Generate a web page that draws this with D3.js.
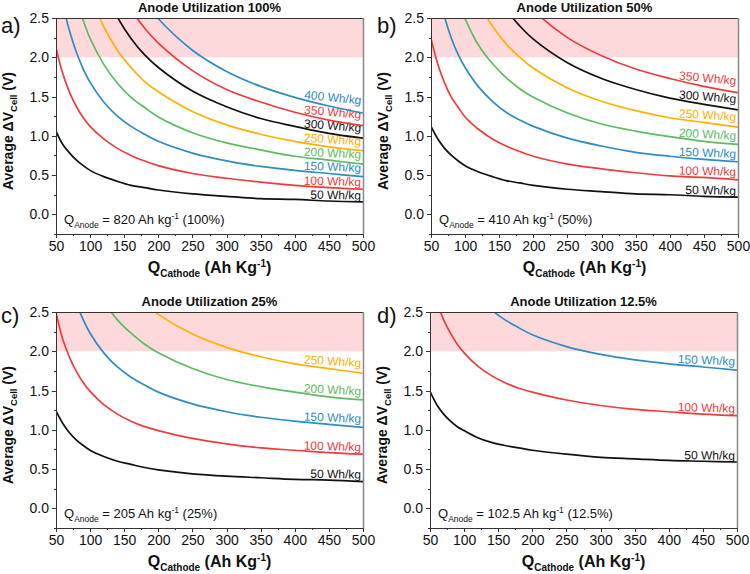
<!DOCTYPE html>
<html>
<head>
<meta charset="utf-8" />
<title>Anode utilization</title>
<script src="https://d3js.org/d3.v7.min.js"></script>
<style>
    body { margin: 0; background: #fff; }
    text { font-family: "Liberation Sans", Arial, sans-serif; fill: #111; }
    .tick text { font-size: 14px; }
    .axis path, .axis line { stroke: #333; stroke-width: 1px; shape-rendering: crispEdges; }
</style>
</head>
<body>
<svg id="chart" width="750" height="574"></svg>
<script>
// cathode capacity samples (Ah/kg)
var qCathode = [50, 60, 70, 80, 90, 100, 120, 140, 160, 180, 200, 250, 300, 350, 400, 450, 500];

var titles = ["Anode Utilization 100%", "Anode Utilization 50%", "Anode Utilization 25%", "Anode Utilization 12.5%"];
var letters = ["a)", "b)", "c)", "d)"];
var anodeCap = ["820", "410", "205", "102.5"];
var anodePct = ["100%", "50%", "25%", "12.5%"];

// specific energies (Wh/kg) shown in each panel
var energyA = [50, 100, 150, 200, 250, 300, 350, 400];
var energyB = [50, 100, 150, 200, 250, 300, 350];
var energyC = [50, 100, 150, 200, 250];
var energyD = [50, 100, 150];

// average cell voltage (V), one row per energy
var voltA = [
    [1.06, 0.89, 0.78, 0.69, 0.62, 0.56, 0.48, 0.42, 0.37, 0.34, 0.31, 0.26, 0.23, 0.20, 0.19, 0.17, 0.16],
    [2.12, 1.79, 1.55, 1.37, 1.23, 1.12, 0.96, 0.84, 0.75, 0.68, 0.62, 0.52, 0.46, 0.41, 0.37, 0.34, 0.32],
    [3.18, 2.68, 2.33, 2.06, 1.85, 1.68, 1.43, 1.25, 1.12, 1.02, 0.93, 0.78, 0.68, 0.61, 0.56, 0.52, 0.48],
    [null, 3.58, 3.10, 2.74, 2.47, 2.24, 1.91, 1.67, 1.49, 1.36, 1.24, 1.04, 0.91, 0.82, 0.74, 0.69, 0.64],
    [null, null, null, 3.43, 3.08, 2.81, 2.39, 2.09, 1.87, 1.69, 1.56, 1.31, 1.14, 1.02, 0.93, 0.86, 0.81],
    [null, null, null, null, null, null, 2.87, 2.51, 2.24, 2.03, 1.87, 1.57, 1.37, 1.22, 1.12, 1.03, 0.97],
    [null, null, null, null, null, null, null, 2.93, 2.61, 2.37, 2.18, 1.83, 1.59, 1.43, 1.30, 1.20, 1.13],
    [null, null, null, null, null, null, null, null, null, 2.71, 2.49, 2.09, 1.82, 1.63, 1.49, 1.38, 1.29]
];
var voltB = [
    [1.12, 0.96, 0.84, 0.75, 0.68, 0.62, 0.54, 0.48, 0.43, 0.40, 0.37, 0.32, 0.29, 0.26, 0.25, 0.23, 0.22],
    [2.24, 1.91, 1.67, 1.49, 1.36, 1.24, 1.08, 0.96, 0.87, 0.80, 0.74, 0.64, 0.58, 0.53, 0.49, 0.47, 0.44],
    [3.37, 2.87, 2.51, 2.24, 2.03, 1.87, 1.62, 1.44, 1.30, 1.20, 1.12, 0.97, 0.87, 0.79, 0.74, 0.70, 0.67],
    [null, 3.82, 3.35, 2.99, 2.71, 2.49, 2.15, 1.92, 1.74, 1.60, 1.49, 1.29, 1.15, 1.06, 0.99, 0.93, 0.89],
    [null, null, null, null, null, 3.11, 2.69, 2.40, 2.17, 2.00, 1.86, 1.61, 1.44, 1.32, 1.23, 1.17, 1.11],
    [null, null, null, null, null, null, null, 2.87, 2.61, 2.40, 2.23, 1.93, 1.73, 1.59, 1.48, 1.40, 1.33],
    [null, null, null, null, null, null, null, null, null, 2.80, 2.60, 2.25, 2.02, 1.85, 1.73, 1.63, 1.55]
];
var voltC = [
    [1.24, 1.08, 0.96, 0.87, 0.80, 0.74, 0.66, 0.60, 0.56, 0.52, 0.49, 0.44, 0.41, 0.39, 0.37, 0.36, 0.34],
    [2.49, 2.15, 1.92, 1.74, 1.60, 1.49, 1.32, 1.20, 1.11, 1.04, 0.99, 0.89, 0.82, 0.77, 0.74, 0.71, 0.69],
    [3.73, 3.23, 2.87, 2.61, 2.40, 2.23, 1.98, 1.80, 1.67, 1.57, 1.48, 1.33, 1.23, 1.16, 1.11, 1.07, 1.03],
    [null, null, null, null, null, 2.98, 2.64, 2.40, 2.23, 2.09, 1.98, 1.78, 1.64, 1.55, 1.48, 1.42, 1.38],
    [null, null, null, null, null, null, null, null, null, 2.61, 2.47, 2.22, 2.05, 1.93, 1.84, 1.78, 1.72]
];
var voltD = [
    [1.49, 1.32, 1.20, 1.11, 1.04, 0.99, 0.90, 0.84, 0.80, 0.77, 0.74, 0.69, 0.65, 0.63, 0.61, 0.60, 0.59],
    [2.98, 2.64, 2.40, 2.23, 2.09, 1.98, 1.81, 1.69, 1.60, 1.53, 1.48, 1.38, 1.31, 1.26, 1.23, 1.20, 1.18],
    [null, null, null, null, null, null, 2.71, 2.53, 2.40, 2.30, 2.21, 2.06, 1.96, 1.89, 1.84, 1.80, 1.76]
];

var xTicks = [50, 100, 150, 200, 250, 300, 350, 400, 450, 500];
var yTicks = [0, 0.5, 1, 1.5, 2, 2.5];

var colorFor = {50: "#111111", 100: "#f03b3b", 150: "#2f8bc3", 200: "#5dbb63",
                250: "#ffb000", 300: "#111111", 350: "#f03b3b", 400: "#2f8bc3"};

var panels = [
    {left: 56, top: 18, energy: energyA, volt: voltA},
    {left: 431, top: 18, energy: energyB, volt: voltB},
    {left: 56, top: 312, energy: energyC, volt: voltC},
    {left: 430, top: 312, energy: energyD, volt: voltD}
];

var plotW = 307, plotH = 216;
var svg = d3.select("#chart");

panels.forEach(function(p, i) {
    var g = svg.append("g").attr("transform", "translate(" + p.left + "," + p.top + ")");

    var x = d3.scaleLinear().domain([50, 500]).range([0, plotW]);
    var y = d3.scaleLinear().domain([-0.25, 2.5]).range([plotH, 0]);

    g.append("clipPath").attr("id", "clip" + i)
        .append("rect").attr("width", plotW).attr("height", plotH);

    // forbidden voltage band
    g.append("rect")
        .attr("x", 0).attr("y", y(2.5))
        .attr("width", plotW).attr("height", y(2) - y(2.5))
        .attr("fill", "#fdd9dc");

    var line = d3.line()
        .defined(function(d) { return d[1] != null; })
        .x(function(d) { return x(d[0]); })
        .y(function(d) { return y(d[1]); })
        .curve(d3.curveCatmullRom.alpha(0.5));

    p.volt.forEach(function(row, k) {
        var pts = qCathode.map(function(q, j) { return [q, row[j]]; });
        var col = colorFor[p.energy[k]];
        g.append("path")
            .attr("clip-path", "url(#clip" + i + ")")
            .attr("d", line(pts))
            .attr("fill", "none")
            .attr("stroke", col)
            .attr("stroke-width", 1.7);

        // label sits over the tail of the curve, slightly tilted
        var n = row.length;
        var v450 = row[n - 2], v400 = row[n - 3];
        var ang = Math.atan2(y(row[n - 1]) - y(v400), x(500) - x(400)) * 180 / Math.PI * 0.45;
        g.append("text")
            .attr("transform", "translate(" + (x(500) - 2) + "," + (y(v450) - 1.5) + ") rotate(" + ang + ")")
            .attr("text-anchor", "end")
            .style("font-size", "12px")
            .style("fill", col)
            .text(p.energy[k] + " Wh/kg");
    });

    // axes
    g.append("g").attr("class", "axis")
        .attr("transform", "translate(0," + plotH + ")")
        .call(d3.axisBottom(x).tickValues(xTicks).tickSize(4).tickSizeOuter(0).tickPadding(3).tickFormat(d3.format("d")));
    g.append("g").attr("class", "axis")
        .attr("transform", "translate(0," + plotH + ")")
        .call(d3.axisBottom(x).tickValues(d3.range(75, 500, 50)).tickSize(2).tickSizeOuter(0).tickFormat(""))
        .select(".domain").remove();
    g.append("g").attr("class", "axis")
        .call(d3.axisLeft(y).tickValues(yTicks).tickSize(4).tickSizeOuter(0).tickPadding(3).tickFormat(d3.format(".1f")));
    g.append("g").attr("class", "axis")
        .call(d3.axisLeft(y).tickValues([-0.25, 0.25, 0.75, 1.25, 1.75, 2.25]).tickSize(2).tickSizeOuter(0).tickFormat(""))
        .select(".domain").remove();

    g.append("line").attr("x1", 0).attr("x2", plotW).attr("y1", 0.5).attr("y2", 0.5)
        .attr("stroke", "#333");
    g.append("line").attr("x1", plotW + 0.5).attr("x2", plotW + 0.5).attr("y1", 0).attr("y2", plotH)
        .attr("stroke", "#888").attr("stroke-width", 1.5);

    // title and panel letter
    g.append("text")
        .attr("x", plotW / 2).attr("y", -6)
        .attr("text-anchor", "middle")
        .style("font-size", "13px").style("font-weight", "bold")
        .text(titles[i]);
    g.append("text")
        .attr("x", (i % 2 == 0 ? 0 : 376) - p.left + 1).attr("y", (i < 2 ? 15 : 11))
        .style("font-size", "22px")
        .text(letters[i]);

    // y label
    var yl = g.append("text")
        .attr("transform", "translate(-43," + (plotH / 2 + 5) + ") rotate(-90)")
        .attr("text-anchor", "middle")
        .style("font-size", "14px").style("font-weight", "bold");
    yl.append("tspan").text("Average \u0394V");
    yl.append("tspan").attr("dy", 4).style("font-size", "9.5px").text("Cell");
    yl.append("tspan").attr("dy", -4).text("  (V)");

    // x label
    var xl = g.append("text")
        .attr("x", plotW / 2).attr("y", plotH + 39)
        .attr("text-anchor", "middle")
        .style("font-size", "16px").style("font-weight", "bold");
    xl.append("tspan").text("Q");
    xl.append("tspan").attr("dy", 4).style("font-size", "10px").text("Cathode");
    xl.append("tspan").attr("dy", -4).text("  (Ah Kg");
    xl.append("tspan").attr("dy", -6).style("font-size", "10px").text("-1");
    xl.append("tspan").attr("dy", 6).text(")");

    // anode capacity note
    var note = g.append("text")
        .attr("x", 8).attr("y", y(-0.12))
        .style("font-size", "13px");
    note.append("tspan").text("Q");
    note.append("tspan").attr("dy", 4).style("font-size", "8.5px").text("Anode");
    note.append("tspan").attr("dy", -4).text(" = " + anodeCap[i] + " Ah kg");
    note.append("tspan").attr("dy", -5).style("font-size", "8.5px").text("-1");
    note.append("tspan").attr("dy", 5).text(" (" + anodePct[i] + ")");
});
</script>
</body>
</html>
